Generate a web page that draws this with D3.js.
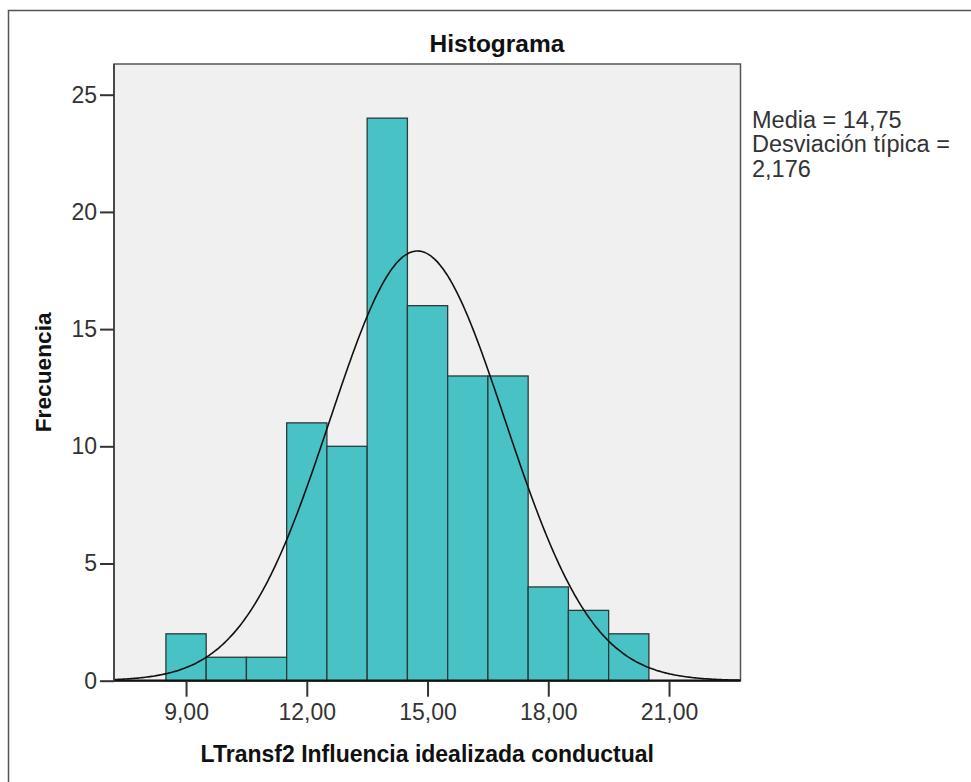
<!DOCTYPE html>
<html>
<head>
<meta charset="utf-8">
<script src="https://cdn.jsdelivr.net/npm/d3@7"></script>
<style>
  html, body { margin: 0; padding: 0; background: #fff; }
  svg { display: block; font-family: "Liberation Sans", Arial, sans-serif; }
</style>
</head>
<body>
<svg id="chart" width="971" height="782"></svg>
<script>
// Histogram bins (centre of each 1-unit bin) and their counts
const binCenters = [9, 10, 11, 12, 13, 14, 15, 16, 17, 18, 19, 20];
const frequencies = [2, 1, 1, 11, 10, 24, 16, 13, 13, 4, 3, 2];
const binWidth = 1;

// Summary statistics shown beside the plot
const mean = 14.75;
const stdDev = 2.176;

// Axis ticks and labels
const xTicks = [9, 12, 15, 18, 21];
const yTicks = [0, 5, 10, 15, 20, 25];
const xDomain = [7.21, 22.776];
const yDomain = [0, 26.31];

const titleText = "Histograma";
const xLabel = "LTransf2 Influencia idealizada conductual";
const yLabel = "Frecuencia";
const statLines = ["Media = 14,75", "Desviación típica =", "2,176"];

const svg = d3.select("#chart");
const plot = { left: 114, top: 64, right: 740.5, bottom: 680.7 };

const x = d3.scaleLinear().domain(xDomain).range([plot.left, plot.right]);
const y = d3.scaleLinear().domain(yDomain).range([plot.bottom, plot.top]);

const fmt = d => d.toFixed(2).replace(".", ",");

// Outer frame (only the left and top edges fall inside the view)
svg.append("path")
  .attr("d", "M8.5,790 L8.5,10.5 L980,10.5")
  .attr("fill", "none").attr("stroke", "#555").attr("stroke-width", 1.5);

// Plot background
svg.append("rect")
  .attr("x", plot.left).attr("y", plot.top)
  .attr("width", plot.right - plot.left).attr("height", plot.bottom - plot.top)
  .attr("fill", "#f0f0f0").attr("stroke", "#555").attr("stroke-width", 1.5);

// Bars
svg.append("g").selectAll("rect")
  .data(binCenters.map((c, i) => ({ c, f: frequencies[i] })))
  .join("rect")
  .attr("x", d => x(d.c - binWidth / 2))
  .attr("y", d => y(d.f))
  .attr("width", d => x(d.c + binWidth / 2) - x(d.c - binWidth / 2))
  .attr("height", d => y(0) - y(d.f))
  .attr("fill", "#48c2c5")
  .attr("stroke", "#2b3a3b").attr("stroke-width", 1.3);

// Normal curve scaled to counts
const n = d3.sum(frequencies);
const pdf = v => Math.exp(-0.5 * ((v - mean) / stdDev) ** 2) / (stdDev * Math.sqrt(2 * Math.PI));
const curvePts = d3.range(0, 401).map(i => {
  const v = xDomain[0] + (xDomain[1] - xDomain[0]) * i / 400;
  return [v, n * binWidth * pdf(v)];
});
svg.append("path")
  .datum(curvePts)
  .attr("d", d3.line().x(d => x(d[0])).y(d => y(d[1])).curve(d3.curveBasis))
  .attr("fill", "none").attr("stroke", "#111").attr("stroke-width", 1.6);

// Axis lines
svg.append("line")
  .attr("x1", plot.left).attr("x2", plot.right)
  .attr("y1", plot.bottom).attr("y2", plot.bottom)
  .attr("stroke", "#111").attr("stroke-width", 2.2);
svg.append("line")
  .attr("x1", plot.left).attr("x2", plot.left)
  .attr("y1", plot.top).attr("y2", plot.bottom)
  .attr("stroke", "#444").attr("stroke-width", 1.8);

// Y axis
const yAxis = d3.axisLeft(y).tickValues(yTicks).tickSize(14).tickPadding(3).tickFormat(d3.format("d"));
const gy = svg.append("g").attr("transform", `translate(${plot.left},0)`).call(yAxis);
gy.select(".domain").remove();
gy.selectAll(".tick line").attr("stroke", "#333").attr("stroke-width", 2);
gy.selectAll(".tick text")
  .attr("font-family", "Liberation Sans, Arial, sans-serif")
  .attr("font-size", 23).attr("fill", "#333");

// X axis
const xAxis = d3.axisBottom(x).tickValues(xTicks).tickSize(15).tickPadding(7).tickFormat(fmt);
const gx = svg.append("g").attr("transform", `translate(0,${plot.bottom + 1})`).call(xAxis);
gx.select(".domain").remove();
gx.selectAll(".tick line").attr("stroke", "#333").attr("stroke-width", 2);
gx.selectAll(".tick text")
  .attr("font-family", "Liberation Sans, Arial, sans-serif")
  .attr("font-size", 23).attr("fill", "#333");

// Title
svg.append("text")
  .attr("x", 497).attr("y", 52)
  .attr("text-anchor", "middle")
  .attr("font-size", 24.5).attr("font-weight", "bold").attr("fill", "#111")
  .text(titleText);

// Axis titles
svg.append("text")
  .attr("x", (plot.left + plot.right) / 2).attr("y", 762)
  .attr("text-anchor", "middle")
  .attr("font-size", 23).attr("font-weight", "bold").attr("fill", "#111")
  .text(xLabel);
svg.append("text")
  .attr("transform", `translate(51,${(plot.top + plot.bottom) / 2}) rotate(-90)`)
  .attr("text-anchor", "middle")
  .attr("font-size", 22.7).attr("font-weight", "bold").attr("fill", "#111")
  .text(yLabel);

// Statistics block
svg.append("g").selectAll("text")
  .data(statLines)
  .join("text")
  .attr("x", 752).attr("y", (d, i) => 127.5 + i * 24.5)
  .attr("font-size", 23.5).attr("fill", "#333")
  .text(d => d);
</script>
</body>
</html>
